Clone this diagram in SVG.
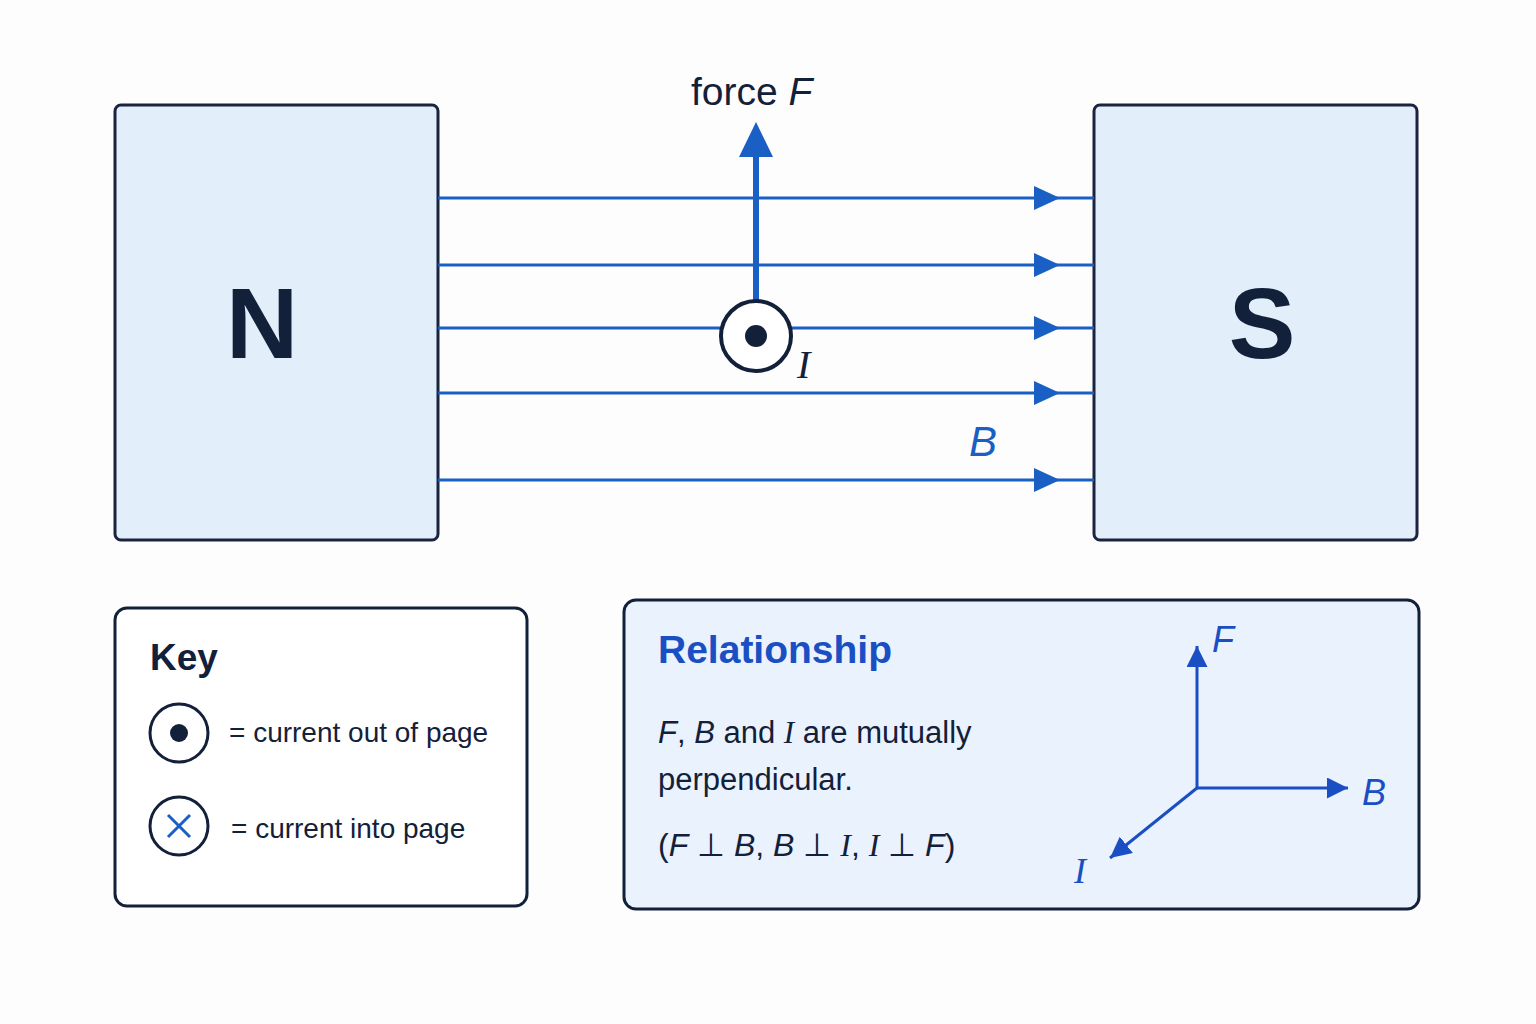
<svg xmlns="http://www.w3.org/2000/svg" width="1536" height="1024" viewBox="0 0 1536 1024">
<style>
.box{fill:#e3eefb;stroke:#1a2340;stroke-width:3}
.fl{stroke:#1a5fc4;stroke-width:3;fill:none}
.t{font-family:"Liberation Sans",Arial,sans-serif;fill:#13203a}
.i{font-style:italic}
.s{font-family:"Liberation Serif","DejaVu Serif",serif;font-style:italic}
.b{fill:#1a5fc4}
</style>
<defs>
<marker id="ah2" viewBox="0 0 10 10" refX="10" refY="5" markerWidth="7" markerHeight="7" orient="auto"><path d="M0,0L10,5L0,10z" fill="#1a4fc4"/></marker>
</defs>
<rect width="1536" height="1024" fill="#fdfdfe"/>
<g id="N"><rect class="box" x="115" y="105" width="323" height="435" rx="6"/><text class="t" x="262" y="358" font-size="100" font-weight="bold" text-anchor="middle">N</text></g>
<g id="S"><rect class="box" x="1094" y="105" width="323" height="435" rx="6"/><text class="t" x="1262" y="358" font-size="100" font-weight="bold" text-anchor="middle">S</text></g>
<g id="connectors">
<g class="fl">
<line x1="438" y1="198" x2="1094" y2="198"/><line x1="438" y1="265" x2="1094" y2="265"/><line x1="438" y1="328" x2="1094" y2="328"/><line x1="438" y1="393" x2="1094" y2="393"/><line x1="438" y1="480" x2="1094" y2="480"/>
</g>
<g class="b">
<path d="M1034,186L1060,198L1034,210z"/><path d="M1034,253L1060,265L1034,277z"/><path d="M1034,316L1060,328L1034,340z"/><path d="M1034,381L1060,393L1034,405z"/><path d="M1034,468L1060,480L1034,492z"/>
</g>
<line x1="756" y1="300" x2="756" y2="150" stroke="#1a5fc4" stroke-width="6"/>
<path d="M739,157L756,122L773,157z" fill="#1a5fc4"/>
</g>
<g id="current"><circle cx="756" cy="336" r="35" fill="#fff" stroke="#13203a" stroke-width="4"/><circle cx="756" cy="336" r="11" fill="#13203a"/>
<text class="t s" x="797" y="378" font-size="40">I</text></g>
<text class="t i b" x="969" y="456" font-size="42">B</text>
<text class="t" x="691" y="105" font-size="39">force <tspan class="i">F</tspan></text>
<g id="key"><rect x="115" y="608" width="412" height="298" rx="12" fill="#fff" stroke="#13203a" stroke-width="3"/>
<text class="t" x="150" y="670" font-size="37" font-weight="bold">Key</text>
<circle cx="179" cy="733" r="29" fill="#fff" stroke="#13203a" stroke-width="3"/><circle cx="179" cy="733" r="9" fill="#13203a"/>
<text class="t" x="229" y="742" font-size="28">=  current out of page</text>
<circle cx="179" cy="826" r="29" fill="#fff" stroke="#13203a" stroke-width="3"/>
<path d="M168,815L190,837M190,815L168,837" stroke="#1a5fc4" stroke-width="3"/>
<text class="t" x="231" y="838" font-size="28">=  current into page</text></g>
<g id="relationship"><rect x="624" y="600" width="795" height="309" rx="12" fill="#eaf2fd" stroke="#13203a" stroke-width="3"/>
<text x="658" y="663" font-size="39" font-family="Liberation Sans,sans-serif" fill="#1a4fc4" font-weight="bold">Relationship</text>
<text class="t" x="658" y="743" font-size="31"><tspan class="i">F</tspan>, <tspan class="i">B</tspan> and <tspan class="s">I</tspan> are mutually</text>
<text class="t" x="658" y="790" font-size="31">perpendicular.</text>
<text class="t" x="658" y="856" font-size="32">(<tspan class="i">F</tspan> ⊥ <tspan class="i">B</tspan>, <tspan class="i">B</tspan> ⊥ <tspan class="s">I</tspan>, <tspan class="s">I</tspan> ⊥ <tspan class="i">F</tspan>)</text>
<g stroke="#1a4fc4" stroke-width="3" fill="none">
<line x1="1197" y1="788" x2="1197" y2="646" marker-end="url(#ah2)"/>
<line x1="1197" y1="788" x2="1348" y2="788" marker-end="url(#ah2)"/>
<line x1="1197" y1="788" x2="1110" y2="858" marker-end="url(#ah2)"/>
</g>
<g fill="#1a4fc4" font-family="Liberation Sans,sans-serif" font-style="italic" font-size="36">
<text x="1212" y="652">F</text><text x="1362" y="805">B</text><text x="1074" y="883" font-family="Liberation Serif,serif">I</text></g>
</g>
</svg>
